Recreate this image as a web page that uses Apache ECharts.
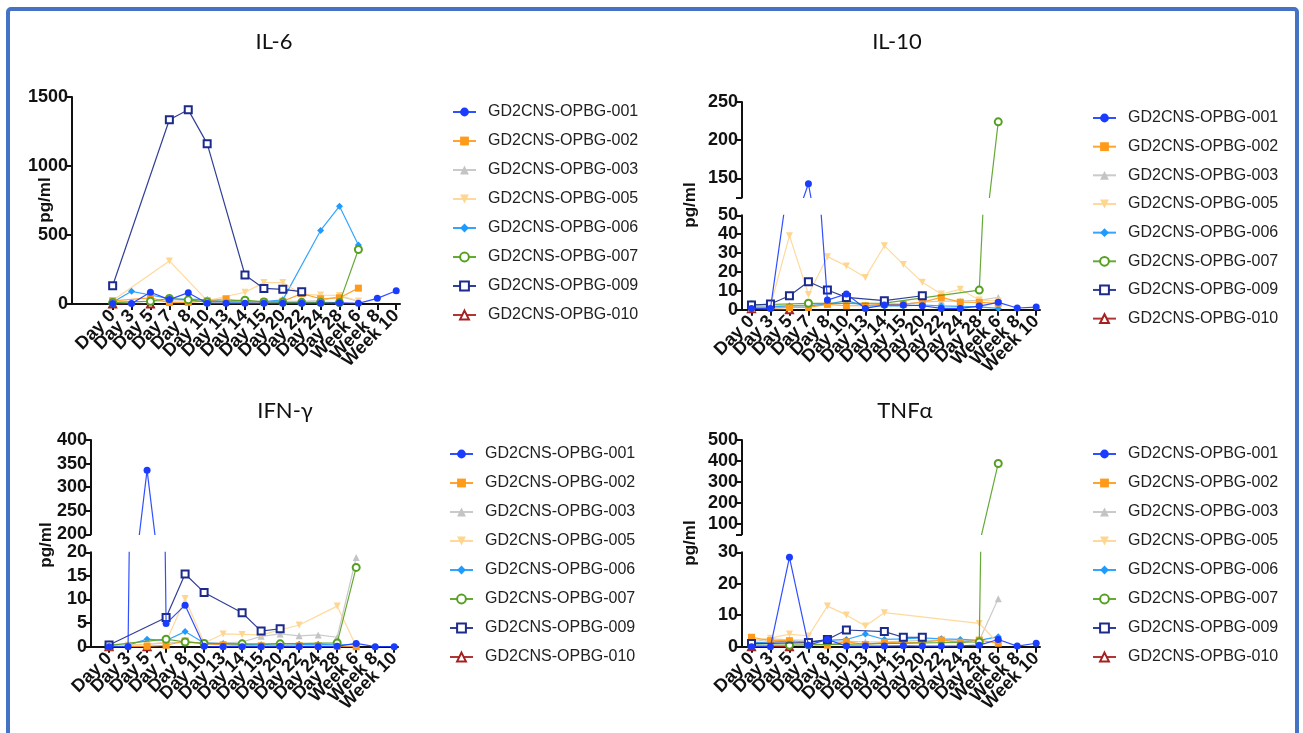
<!DOCTYPE html>
<html><head><meta charset="utf-8">
<script src="https://cdn.jsdelivr.net/npm/echarts@6/dist/echarts.min.js"></script>
<style>html,body{margin:0;padding:0;background:#fff}#c{width:1303px;height:733px}</style>
</head><body><div id="c"></div>
<script>
// ---------- data ----------
const categories = ['Day 0','Day 3','Day 5','Day 7','Day 8','Day 10','Day 13','Day 14','Day 15','Day 20','Day 22','Day 24','Day 28','Week 6','Week 8','Week 10'];
const seriesNames = ['GD2CNS-OPBG-001','GD2CNS-OPBG-002','GD2CNS-OPBG-003','GD2CNS-OPBG-005','GD2CNS-OPBG-006','GD2CNS-OPBG-007','GD2CNS-OPBG-009','GD2CNS-OPBG-010'];

// IL-6
const il6_001 = [3, 3, 85, 32, 82, 5, 5, 5, 5, 5, 5, 5, 8, 5, 41, 96];
const il6_002 = [22, null, 45, 10, 12, 22, 38, 18, 15, 20, 75, 38, 45, 115, null, null];
const il6_003 = [15, 15, 20, 20, 25, 15, 10, 10, 15, 20, 20, 25, 55, 20, null, null];
const il6_005 = [25, null, null, 312, null, 24, null, 85, 155, 155, 70, 65, 62, 22, null, null];
const il6_006 = [12, 92, 65, 38, 35, 30, 15, 15, 18, 30, null, 533, 709, 427, null, null];
const il6_007 = [10, null, 20, 40, 30, 15, null, 28, 15, 12, 12, 12, 10, 395, null, null];
const il6_009 = [132, null, null, 1335, 1407, 1162, null, 210, 113, 106, 89, null, null, null, null, null];
const il6_010 = [0, null, 0, null, null, null, null, null, null, null, null, null, null, null, null, null];

// IL-10
const il10_001 = [0.7, 0.7, null, 143, 5.1, 8.3, 0.7, 2.5, 2.5, 2.1, 0.7, 0.7, 1.9, 3.9, 0.9, 1.4];
const il10_002 = [0.7, null, 1.2, 1.2, 2.8, 2.1, 2.1, 3.0, 2.8, 4.0, 6.5, 4.0, 3.9, 3.4, null, null];
const il10_003 = [2.0, 2.0, 2.0, 2.5, 3.0, 3.5, 2.5, 3.0, 3.0, 4.0, 4.5, 4.5, 5.0, 6.5, null, null];
const il10_005 = [2.0, 2.0, 39.2, 8.1, 28.1, 23.1, 17.1, 33.9, 24.0, 14.5, 8.3, 10.8, 5.1, 4.6, null, null];
const il10_006 = [1.5, 1.5, 2.0, 2.0, 3.0, 4.8, 2.0, 2.0, 2.0, 2.5, 2.0, 1.8, 1.5, 0.7, null, null];
const il10_007 = [2.5, null, null, 3.4, null, null, null, 3.5, null, null, null, null, 10.4, 224, null, null];
const il10_009 = [2.5, 3.0, 7.4, 14.8, 10.4, 6.5, null, 4.8, null, 7.4, null, null, null, null, null, null];
const il10_010 = [0.5, null, 0, null, null, null, null, null, null, null, null, null, null, null, null, null];

// IFN-gamma
const ifn_001 = [0, 0, 336, 4.9, 8.8, 0.1, 0, 0, 0, 0.1, 0, 0, 0.1, 0.7, 0, 0];
const ifn_002 = [0, null, 0.1, 0.3, 1.2, 0.6, 0.4, 0.3, 0.2, 0.2, 0.2, 0.2, 0.1, 0, null, null];
const ifn_003 = [0.3, 0.3, 0.5, 0.8, 0.9, 0.8, 0.8, 1.0, 2.2, 2.7, 2.3, 2.5, 2.0, 18.9, null, null];
const ifn_005 = [0.2, 0.3, 0.5, 1.0, 10.2, 0.8, 2.7, 2.6, 2.5, null, 4.6, null, 8.6, 0.1, null, null];
const ifn_006 = [0.3, 0.3, 1.6, 1.3, 3.2, 0.8, 0.6, 0.5, 0.4, 0.7, 0.5, 0.5, 0.4, 0.5, null, null];
const ifn_007 = [0.3, null, null, 1.6, 1.0, 0.7, null, 0.6, null, 0.6, null, null, 0.8, 16.8, null, null];
const ifn_009 = [0.35, null, null, 6.2, 15.4, 11.5, null, 7.2, 3.3, 3.8, null, null, null, null, null, null];
const ifn_010 = [0, null, 0, null, null, null, null, null, null, null, null, null, null, null, null, null];

// TNF-alpha
const tnf_001 = [0, 0, 28.4, 0.5, 2.3, 0.2, 0.2, 0.2, 0.3, 0.2, 0.2, 0.3, 0.5, 2.3, 0.2, 1.1];
const tnf_002 = [3.0, 1.9, 1.9, 1.1, 0.5, 1.6, 0.7, 1.4, 1.2, 1.4, 2.1, 1.4, 2.1, 1.1, null, null];
const tnf_003 = [1.5, 2.5, 2.2, 2.0, 1.8, 1.8, 1.5, 1.5, 1.8, 2.0, 2.0, 1.8, 2.0, 15.2, null, null];
const tnf_005 = [2.0, 2.7, 4.0, 3.4, 12.9, 10.1, 6.6, 10.8, null, null, null, null, 7.4, 1.1, null, null];
const tnf_006 = [1.2, 1.5, 1.8, 1.5, 2.0, 2.3, 4.0, 2.3, 2.5, 2.8, 2.5, 2.3, 2.0, 3.2, null, null];
const tnf_007 = [0.5, null, 0.5, 0.6, null, null, null, null, null, null, null, null, 1.5, 388, null, null];
const tnf_009 = [1.0, null, null, 1.3, 2.3, 5.3, null, 4.8, 3.0, 3.0, null, null, null, null, null, null];
const tnf_010 = [0, null, 0, null, null, null, null, null, null, null, null, null, null, null, null, null];

// tick values
const il6Ticks = [0, 500, 1000, 1500];
const il10TopTicks = [125, 150, 200, 250];
const il10TopLabels = [150, 200, 250];
const il10BotTicks = [0, 10, 20, 30, 40, 50];
const ifnTopTicks = [200, 250, 300, 350, 400];
const ifnBotTicks = [0, 5, 10, 15, 20];
const tnfTopTicks = [50, 100, 200, 300, 400, 500];
const tnfTopLabels = [100, 200, 300, 400, 500];
const tnfBotTicks = [0, 10, 20, 30];

// ---------- styling ----------
const styles = [
  {color:'#1a3cff', symbol:'circle', size:7, bw:0, z:10},
  {color:'#ff9a1a', symbol:'rect', size:7, bw:0, z:4},
  {color:'#c4c4c4', symbol:'triangle', size:7, bw:0, z:2},
  {color:'#ffd590', symbol:'triangle', rot:180, size:7, bw:0, z:3},
  {color:'#1e9bff', symbol:'diamond', size:7, bw:0, z:3},
  {color:'#55a020', symbol:'emptyCircle', size:7, bw:1.6, z:5},
  {color:'#1c2a8c', symbol:'emptyRect', size:7, bw:1.8, z:8},
  {color:'#a52020', symbol:'emptyTriangle', size:7, bw:1.6, z:1}
];
const drawOrder = [7, 2, 4, 3, 1, 5, 6, 0];
const idx = categories.map((c, i) => i);
const AX = '#111';
const FONT = 'Liberation Sans, Arial, sans-serif';

const grids = [
  {left:72, top:97, width:328, height:207},     // IL-6
  {left:742, top:102, width:298, height:95.5},  // IL-10 top
  {left:742, top:215.3, width:298, height:94.4},// IL-10 bottom
  {left:91, top:440, width:307, height:94.3},   // IFN top
  {left:91, top:552.3, width:307, height:94.4}, // IFN bottom
  {left:742, top:440, width:298, height:94.3},  // TNF top
  {left:742, top:552.3, width:298, height:94.4} // TNF bottom
];
const xRange = [[-2.15,15.2],[-0.5,15.2],[-0.5,15.2],[-0.95,15.2],[-0.95,15.2],[-0.5,15.2],[-0.5,15.2]];
const xShown = [true,false,true,false,true,false,true];
const yDefs = [
  [0,1500,il6Ticks,il6Ticks],
  [125,250,il10TopTicks,il10TopLabels],
  [0,50,il10BotTicks,il10BotTicks],
  [200,400,ifnTopTicks,ifnTopTicks],
  [0,20,ifnBotTicks,ifnBotTicks],
  [50,500,tnfTopTicks,tnfTopLabels],
  [0,30,tnfBotTicks,tnfBotTicks]
];

const xAxes = grids.map((g, i) => ({
  type:'value', gridIndex:i, min:xRange[i][0], max:xRange[i][1], show:xShown[i], position:'bottom',
  axisLine:{show:true, onZero:false, lineStyle:{color:AX, width:2}},
  axisTick:{show:true, length:6, customValues:idx, lineStyle:{color:AX, width:2}},
  axisLabel:{show:false},
  splitLine:{show:false}
}));
const yAxes = grids.map((g, i) => ({
  type:'value', gridIndex:i, min:yDefs[i][0], max:yDefs[i][1],
  axisLine:{show:true, onZero:false, lineStyle:{color:AX, width:2}},
  axisTick:{show:true, length:6, customValues:yDefs[i][2], lineStyle:{color:AX, width:2}},
  axisLabel:{show:true, customValues:yDefs[i][3], margin:4, hideOverlap:false, showMinLabel:true, showMaxLabel:true,
    formatter:v => String(v), fontSize:18, fontWeight:'bold', color:AX, fontFamily:FONT},
  splitLine:{show:false}
}));

// label grids: category axes aligned with the data positions of each visible x axis
const allGrids = grids.slice();
[0, 2, 4, 6].forEach(gi => {
  const g = grids[gi], r = xRange[gi];
  const step = g.width / (r[1] - r[0]);
  const day0 = g.left - r[0] * step;
  const li = allGrids.length;
  allGrids.push({left: day0 - step / 2, width: step * categories.length, top: g.top, height: g.height});
  xAxes.push({type:'category', gridIndex:li, data:categories, boundaryGap:true, position:'bottom',
    axisLine:{show:false}, axisTick:{show:false}, splitLine:{show:false},
    axisLabel:{interval:0, rotate:45, margin:9, fontSize:18, fontWeight:'bold', color:AX, fontFamily:FONT}});
  yAxes.push({type:'value', gridIndex:li, show:false, min:0, max:1});
});

function mk(k, values, gi) {
  const st = styles[k];
  return {
    type:'line', name:seriesNames[k], xAxisIndex:gi, yAxisIndex:gi,
    data: values.map((v, i) => [i, v]).filter(d => d[1] !== null),
    symbol:st.symbol, symbolSize:st.size, symbolRotate:st.rot || 0, showAllSymbol:true,
    clip:true, connectNulls:true, z:st.z,
    lineStyle:{color:st.color, width:1.2, opacity:0.9},
    itemStyle:{color:st.color, borderColor:st.color, borderWidth:st.bw},
    emphasis:{disabled:true}
  };
}
const panels = [
  {sets:[il6_001,il6_002,il6_003,il6_005,il6_006,il6_007,il6_009,il6_010], grids:[0]},
  {sets:[il10_001,il10_002,il10_003,il10_005,il10_006,il10_007,il10_009,il10_010], grids:[1,2]},
  {sets:[ifn_001,ifn_002,ifn_003,ifn_005,ifn_006,ifn_007,ifn_009,ifn_010], grids:[3,4]},
  {sets:[tnf_001,tnf_002,tnf_003,tnf_005,tnf_006,tnf_007,tnf_009,tnf_010], grids:[5,6]}
];
const series = [];
panels.forEach(p => p.grids.forEach(gi => drawOrder.forEach(k => series.push(mk(k, p.sets[k], gi)))));

function legendAt(left, top, gap) {
  return {data:seriesNames, orient:'vertical', left, top, itemWidth:23, itemHeight:11, itemGap:gap,
    padding:0, selectedMode:false,
    textStyle:{fontSize:16, color:'#222', fontFamily:FONT, padding:[0,0,0,7]}};
}

function txt(x, y, s, opts) {
  return Object.assign({type:'text', x, y, silent:true,
    style:{text:s, align:'center', verticalAlign:'middle', fill:'#111', font: opts.font}}, opts.rot ? {rotation:opts.rot} : {});
}
const titleFont = '22px Lato, "Open Sans", sans-serif';
const yNameFont = 'bold 17px ' + FONT;

const chart = echarts.init(document.getElementById('c'), null, {renderer:'canvas'});
chart.setOption({
  animation:false,
  backgroundColor:'#fff',
  grid:allGrids,
  xAxis:xAxes,
  yAxis:yAxes,
  legend:[legendAt(452,104,13), legendAt(1092,110,12.66), legendAt(449,446,13), legendAt(1092,446,13)],
  series,
  graphic:[
    {type:'rect', silent:true, z:-10, shape:{x:8, y:9, width:1289, height:780, r:3}, style:{fill:'none', stroke:'#4472C4', lineWidth:4}},
    txt(274, 42, 'IL-6', {font:titleFont}),
    txt(897, 42, 'IL-10', {font:titleFont}),
    txt(285, 411, 'IFN-γ', {font:titleFont}),
    txt(905, 411, 'TNFα', {font:titleFont}),
    txt(45, 200, 'pg/ml', {font:yNameFont, rot:Math.PI/2}),
    txt(690, 205, 'pg/ml', {font:yNameFont, rot:Math.PI/2}),
    txt(46, 545, 'pg/ml', {font:yNameFont, rot:Math.PI/2}),
    txt(690, 543, 'pg/ml', {font:yNameFont, rot:Math.PI/2})
  ]
});
</script></body></html>
